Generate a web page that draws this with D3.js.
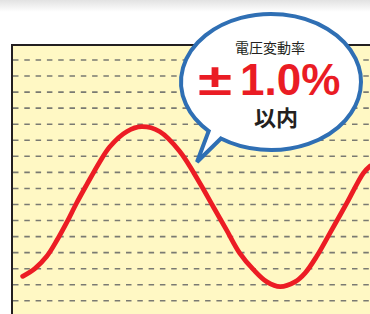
<!DOCTYPE html>
<html>
<head>
<meta charset="utf-8">
<script src="https://cdn.jsdelivr.net/npm/d3@7"></script>
<style>
  html, body { margin: 0; padding: 0; background: #fff; }
  svg { display: block; }
</style>
</head>
<body>
<div id="chart"></div>
<script>
// phase of the voltage wave (degrees) and its relative level (-1..1)
var phase = [-63, -47, -32, -19, -6, 6, 19, 36, 49, 71, 90, 113, 139, 165, 182, 199, 216, 234, 251, 268, 287, 300, 315, 332, 354, 375, 384];
var level = [-0.87, -0.77, -0.62, -0.42, -0.19, 0.04, 0.27, 0.56, 0.75, 0.94, 1.0, 0.94, 0.69, 0.29, 0.0, -0.29, -0.58, -0.79, -0.94, -1.0, -0.94, -0.83, -0.62, -0.33, 0.05, 0.42, 0.51];
// horizontal guide lines (index)
var gridRows = d3.range(16);
var bubbleTitle = "電圧変動率";
var bubbleValue = "1.0%";
var bubbleSign = "±";
var bubbleNote = "以内";

var W = 370, H = 314;

var svg = d3.select("#chart")
    .append("svg")
    .attr("width", W)
    .attr("height", H);

var defs = svg.append("defs");
var grad = defs.append("linearGradient")
    .attr("id", "topband")
    .attr("x1", 0).attr("y1", 0).attr("x2", 0).attr("y2", 1);
grad.append("stop").attr("offset", "0%").attr("stop-color", "#e2e2e2");
grad.append("stop").attr("offset", "100%").attr("stop-color", "#ffffff");

svg.append("rect")
    .attr("x", 0).attr("y", 0)
    .attr("width", W).attr("height", 12)
    .attr("fill", "url(#topband)");

// plot frame
var frame = { left: 12, top: 45 };

svg.append("rect")
    .attr("x", frame.left)
    .attr("y", frame.top)
    .attr("width", W + 10)
    .attr("height", H)
    .attr("fill", "#fff8c4")
    .attr("stroke", "#231f20")
    .attr("stroke-width", 2);

// SCALES
var x = d3.scaleLinear()
    .domain([0, 360])
    .range([71.7, 71.7 + 360 * 0.7778]);

var y = d3.scaleLinear()
    .domain([-1, 1])
    .range([286.7, 126.7]);

var gy = d3.scaleLinear()
    .domain([0, 15])
    .range([60, 300.8]);

svg.selectAll(".grid")
    .data(gridRows)
    .enter().append("line")
    .attr("class", "grid")
    .attr("x1", frame.left + 1)
    .attr("x2", W)
    .attr("y1", d => gy(d))
    .attr("y2", d => gy(d))
    .attr("stroke", "#7a7a72")
    .attr("stroke-width", 1.6)
    .attr("stroke-dasharray", "5.5,5.8");

// WAVE
var points = phase.map((p, i) => [p, level[i]]);

var line = d3.line()
    .x(d => x(d[0]))
    .y(d => y(d[1]))
    .curve(d3.curveCatmullRom.alpha(0.5));

svg.append("path")
    .datum(points)
    .attr("d", line)
    .attr("fill", "none")
    .attr("stroke", "#ec1c24")
    .attr("stroke-width", 4.8)
    .attr("stroke-linecap", "round")
    .attr("stroke-linejoin", "round");

// SPEECH BUBBLE
var cx = 271, cy = 82, rx = 90, ry = 68;
function onEllipse(deg) {
    var a = deg * Math.PI / 180;
    return [cx + rx * Math.cos(a), cy + ry * Math.sin(a)];
}
var A = onEllipse(133.8), B = onEllipse(123.8), tip = [197, 162];

svg.append("path")
    .attr("d", "M" + A + " A" + rx + "," + ry + " 0 1 1 " + B + " L" + tip + " Z")
    .attr("fill", "#fff")
    .attr("stroke", "#2f6fb4")
    .attr("stroke-width", 4)
    .attr("stroke-linejoin", "miter");

svg.append("text")
    .attr("x", 270)
    .attr("y", 53)
    .attr("text-anchor", "middle")
    .attr("font-family", "'Noto Sans CJK JP', sans-serif")
    .attr("font-size", 14)
    .attr("fill", "#231f20")
    .text(bubbleTitle);

svg.append("text")
    .attr("x", 198)
    .attr("y", 95)
    .attr("textLength", 34)
    .attr("lengthAdjust", "spacingAndGlyphs")
    .attr("font-family", "'Liberation Sans', Arial, sans-serif")
    .attr("font-weight", "bold")
    .attr("font-size", 44)
    .attr("fill", "#ea1c24")
    .text(bubbleSign);

svg.append("text")
    .attr("x", 240)
    .attr("y", 95)
    .attr("font-family", "'Liberation Sans', Arial, sans-serif")
    .attr("font-weight", "bold")
    .attr("font-size", 44)
    .attr("fill", "#ea1c24")
    .text(bubbleValue);

svg.append("text")
    .attr("x", 276)
    .attr("y", 126)
    .attr("text-anchor", "middle")
    .attr("font-family", "'Noto Sans CJK JP', sans-serif")
    .attr("font-weight", "bold")
    .attr("font-size", 22)
    .attr("fill", "#231f20")
    .text(bubbleNote);
</script>
</body>
</html>
